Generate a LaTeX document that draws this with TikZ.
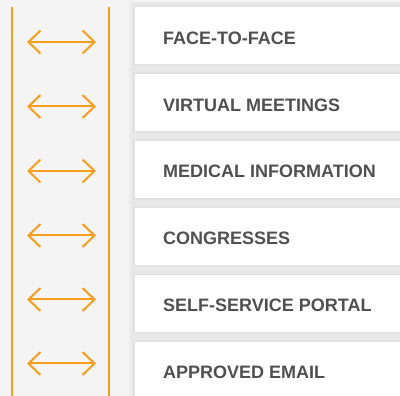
\documentclass[tikz,border=0pt]{standalone}
\usepackage{fontspec}
\setmainfont{Liberation Sans}
\usetikzlibrary{arrows.meta}
\definecolor{pageback}{RGB}{244,244,244}
\definecolor{accent}{RGB}{248,158,30}
\definecolor{labeltext}{RGB}{80,80,80}

\begin{document}
\begin{tikzpicture}[x=1pt,y=-1pt,
  channel/.style={fill=white,minimum width=280pt,minimum height=57pt,anchor=north west,
    preaction={draw=black,draw opacity=0.025,line width=12pt},
    preaction={draw=black,draw opacity=0.025,line width=8pt},
    preaction={draw=black,draw opacity=0.025,line width=4pt}},
  tag/.style={anchor=west,inner sep=0pt,text=labeltext,font=\bfseries\fontsize{18}{20}\selectfont},
  twoway/.style={{Straight Barb[length=12pt,width=23pt]}-{Straight Barb[length=12pt,width=23pt]},accent,line width=2pt}]
\useasboundingbox (0,0) rectangle (400,396);
\clip (0,0) rectangle (400,396);
\fill[pageback] (0,0) rectangle (400,396);
\draw[accent,line width=2pt] (12,7) -- (12,400);
\draw[accent,line width=2pt] (109,7) -- (109,400);
\node[channel] (C1) at (135,7) {};
\node[channel] (C2) at (135,74) {};
\node[channel] (C3) at (135,141) {};
\node[channel] (C4) at (135,208) {};
\node[channel] (C5) at (135,275) {};
\node[channel] (C6) at (135,342) {};
\node[tag] (T1) at (163,38) {FACE-TO-FACE};
\node[tag] (T2) at (163,105) {VIRTUAL MEETINGS};
\node[tag] (T3) at (163,171.5) {MEDICAL INFORMATION};
\node[tag] (T4) at (163,238.5) {CONGRESSES};
\node[tag] (T5) at (163,305.5) {SELF-SERVICE PORTAL};
\node[tag] (T6) at (163,372.5) {APPROVED EMAIL};
\coordinate (A1) at (27,42);  \coordinate (B1) at (96,42);
\coordinate (A2) at (27,106.5); \coordinate (B2) at (96,106.5);
\coordinate (A3) at (27,171); \coordinate (B3) at (96,171);
\coordinate (A4) at (27,235.5); \coordinate (B4) at (96,235.5);
\coordinate (A5) at (27,299.5); \coordinate (B5) at (96,299.5);
\coordinate (A6) at (27,363.5); \coordinate (B6) at (96,363.5);
\draw[twoway] (A1) -- (B1);
\draw[twoway] (A2) -- (B2);
\draw[twoway] (A3) -- (B3);
\draw[twoway] (A4) -- (B4);
\draw[twoway] (A5) -- (B5);
\draw[twoway] (A6) -- (B6);
\end{tikzpicture}
\end{document}
